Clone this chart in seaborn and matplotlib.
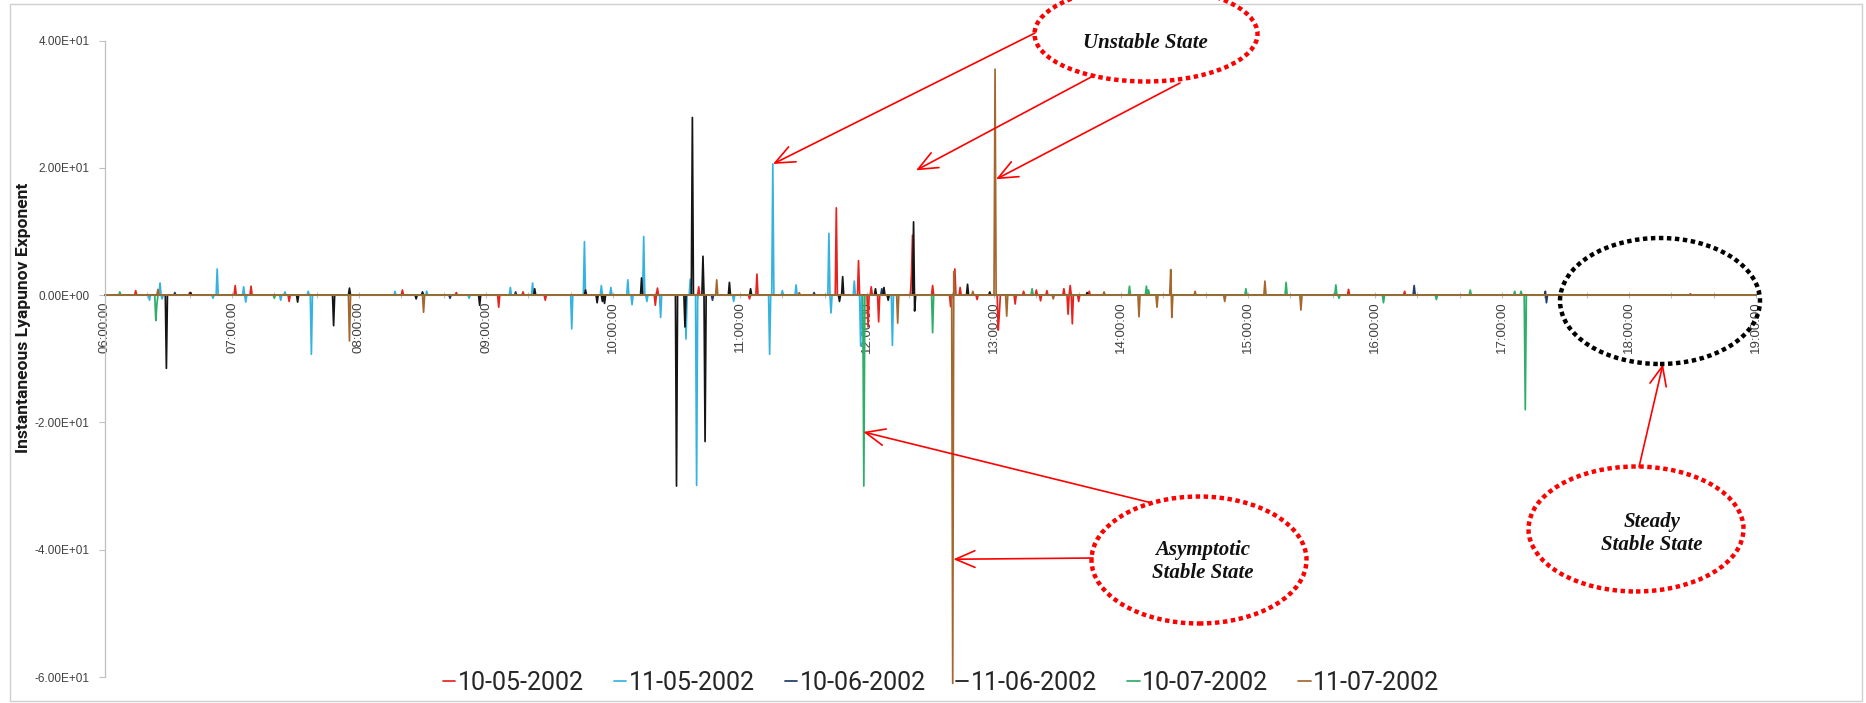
import numpy as np
import pandas as pd
import matplotlib
matplotlib.use("Agg")
import matplotlib.pyplot as plt
import seaborn as sns
from matplotlib.patches import Ellipse, Rectangle
from matplotlib.ticker import MultipleLocator, FuncFormatter

# ---------------- data ----------------
dates = ["10-05-2002", "11-05-2002", "10-06-2002", "11-06-2002", "10-07-2002", "11-07-2002"]
colors = ["#E8231F", "#35B3E0", "#1F3A6B", "#151515", "#2EAE68", "#A4672E"]

t_1005 = ["06:14:24", "06:40:00", "07:01:24", "07:09:00", "07:27:00", "08:20:24", "08:46:00", "09:06:00",
          "09:17:24", "09:28:00", "10:20:00", "10:21:00", "10:40:36", "11:04:30", "11:07:48", "11:45:36",
          "11:55:48", "12:00:30", "12:01:48", "12:05:36", "12:20:48", "12:21:30", "12:31:12", "12:39:30",
          "12:41:30", "12:44:00", "12:52:00", "13:01:48", "13:02:30", "13:09:54", "13:14:00", "13:20:00",
          "13:22:00", "13:25:00", "13:33:00", "13:35:00", "13:36:00", "13:37:00", "13:40:00", "13:45:00",
          "15:47:18", "16:14:00", "18:29:00"]
v_1005 = [0.7, 0.4, 1.5, 1.4, -1.0, 0.8, 0.4, -1.9,
          0.5, -0.8, -1.6, 1.1, 1.3, -0.6, 3.3, 13.7,
          5.4, -5.0, 1.3, -4.2, 3.1, 9.4, 1.5, -1.8,
          4.1, 1.2, -0.7, -5.5, -3.0, -1.4, 0.6, 0.8,
          -0.9, 0.7, 1.0, -3.0, 1.5, -4.5, -1.0, 0.6,
          0.9, 0.6, 0.2]

t_1105 = ["06:21:00", "06:25:48", "06:27:00", "06:51:00", "06:53:12", "07:05:24", "07:06:30", "07:23:00",
          "07:25:00", "07:36:00", "07:37:30", "08:17:00", "08:32:00", "08:52:00", "09:11:24", "09:22:00",
          "09:40:36", "09:46:30", "09:54:18", "09:58:48", "10:06:54", "10:09:00", "10:14:36", "10:16:00",
          "10:22:42", "10:34:30", "10:36:18", "10:39:42", "10:57:00", "11:14:12", "11:15:36", "11:20:00",
          "11:26:24", "11:42:00", "11:43:00", "11:53:54", "11:57:00", "12:12:00"]
v_1105 = [-0.8, 1.9, -0.6, -0.5, 4.1, 1.3, -1.1, -0.8,
          0.5, 0.6, -9.3, 0.6, 0.6, -0.5, 1.2, 1.9,
          -5.3, 8.4, 1.5, 1.2, 2.4, -1.5, 9.2, -1.0,
          -3.5, -6.9, 2.5, -29.9, -1.0, -9.3, 20.6, 0.7,
          1.6, 9.7, -2.8, 2.2, -8.0, -7.9]

t_1006 = ["06:33:00", "08:43:00", "09:14:00", "10:47:00", "11:35:00", "12:07:00", "16:18:18", "17:20:30",
          "17:21:00"]
v_1006 = [0.4, -0.5, 0.5, -0.8, 0.4, 1.0, 1.5, 0.6,
          -1.2]

t_1106 = ["06:29:00", "06:40:30", "07:31:00", "07:48:00", "07:55:18", "08:27:00", "08:30:00", "08:57:00",
          "09:23:00", "09:46:48", "09:52:30", "09:55:00", "09:56:06", "10:13:30", "10:29:48", "10:34:00",
          "10:37:42", "10:42:30", "10:43:30", "10:54:48", "11:05:00", "11:47:00", "11:48:18", "12:04:00",
          "12:08:00", "12:10:00", "12:22:00", "12:22:30", "12:47:24", "12:58:00", "13:44:00"]
v_1106 = [-11.5, 0.4, -1.1, -4.8, 1.1, -0.6, 0.5, -1.6,
          1.0, 0.8, -1.2, -1.0, -1.3, 2.7, -30.0, -5.0,
          27.9, 6.1, -23.0, 2.0, 1.0, -1.0, 2.9, 1.0,
          1.2, -0.8, 11.5, -2.5, 1.7, 0.5, 0.4]

t_1007 = ["06:07:00", "06:23:48", "06:24:30", "07:20:00", "11:58:18", "12:31:00", "13:18:00", "14:04:00",
          "14:12:00", "14:13:00", "14:59:00", "15:18:00", "15:41:30", "15:43:00", "16:04:00", "16:29:00",
          "16:45:00", "17:06:00", "17:09:00", "17:11:06"]
v_1007 = [0.5, -4.0, -1.5, -0.5, -30.0, -5.9, 1.0, 1.4,
          1.4, 0.8, 1.0, 2.0, 1.6, -0.5, -1.2, -0.7,
          0.8, 0.6, 0.6, -18.0]

t_1107 = ["06:25:00", "07:55:30", "08:30:36", "10:48:54", "11:28:00", "12:14:18", "12:40:24", "12:41:00",
          "12:50:00", "13:00:30", "13:06:00", "13:28:00", "13:52:00", "14:08:30", "14:17:00", "14:23:30",
          "14:24:00", "14:35:00", "14:49:00", "15:08:00", "15:24:48"]
v_1107 = [0.9, -7.2, -2.7, 2.4, 0.4, -4.4, -61.0, 3.7,
          0.6, 35.5, -3.3, -0.6, 0.5, -3.4, -1.9, 4.0,
          -3.5, 0.6, -1.0, 2.2, -2.35]

hour_ticks = list(range(6, 20))
hour_labels = [f"{h:02d}:00:00" for h in hour_ticks]
y_ticks = [-60, -40, -20, 0, 20, 40]

# --------------- build long table (30 s sampling, 0 between readings) ---------------
STEP = 120  # samples per hour
grid = 6 + np.arange(0, 13 * STEP + 1) / STEP


def to_hours(s):
    h, m, sec = map(int, s.split(":"))
    return h + m / 60 + sec / 3600


frames = []
for d, ts, vs in zip(dates,
                     [t_1005, t_1105, t_1006, t_1106, t_1007, t_1107],
                     [v_1005, v_1105, v_1006, v_1106, v_1007, v_1107]):
    y = np.zeros(len(grid))
    for t, v in zip(ts, vs):
        y[int(round((to_hours(t) - 6) * STEP))] = v
    frames.append(pd.DataFrame({"hour": grid, "value": y, "date": d}))
df = pd.concat(frames, ignore_index=True)

# --------------- figure ---------------
sns.set_style("ticks")
plt.rcParams["font.family"] = ["Liberation Sans", "DejaVu Sans"]

W, H = 1866, 703
fig = plt.figure(figsize=(W / 100, H / 100), dpi=100)
fig.patch.set_facecolor("white")


def fx(px):
    return px / W


def fy(py):
    return 1 - py / H


ax = fig.add_axes([fx(105), fy(677), (1756 - 105) / W, (677 - 40.5) / H])

sns.lineplot(data=df, x="hour", y="value", hue="date", hue_order=dates,
             palette=dict(zip(dates, colors)), estimator=None, sort=False,
             linewidth=1.25, ax=ax)
for ln in ax.get_lines():
    ln.set_clip_on(False)

ax.set_xlim(6, 19)
ax.set_ylim(-60, 40)
ax.set_xlabel("")
ax.set_ylabel("")

ax.spines["top"].set_visible(False)
ax.spines["right"].set_visible(False)
ax.spines["bottom"].set_position(("data", 0))
for s in ("bottom", "left"):
    ax.spines[s].set_color("#BFBFBF")
    ax.spines[s].set_linewidth(0.9)
ax.spines["bottom"].set_zorder(0.5)

ax.set_xticks(hour_ticks)
ax.set_xticklabels(hour_labels, rotation=90, va="top", ha="center")
ax.xaxis.set_minor_locator(MultipleLocator(1 / 3))
ax.tick_params(axis="x", which="both", direction="inout", length=5, width=0.8,
               color="#BFBFBF", pad=2, labelsize=9.5, labelcolor="#404040", bottom=True)

ax.set_yticks(y_ticks)
ax.yaxis.set_major_formatter(FuncFormatter(lambda v, p: f"{v:.2E}"))
ax.tick_params(axis="y", direction="out", length=4, width=0.8, color="#BFBFBF",
               pad=7, labelsize=8.5, labelcolor="#404040", left=True)

fig.text(fx(24), fy(318), "Instantaneous Lyapunov Exponent", rotation=90,
         ha="center", va="center", fontsize=12.6, fontweight="bold",
         family="Roboto", color="#1a1a1a")

# legend
handles, labels = ax.get_legend_handles_labels()
if ax.get_legend() is not None:
    ax.get_legend().remove()
leg = fig.legend(handles, labels, loc="center", bbox_to_anchor=(fx(941), 20 / H),
                 ncol=6, frameon=False, prop={"family": "Roboto", "size": 18},
                 handlelength=0.5, handletextpad=0.1, columnspacing=1.2, borderpad=0)
for txt in leg.get_texts():
    txt.set_color("#262626")

# --------------- annotations ---------------
dots = (0, (1, 0.8))


def ellipse(cx, cy, w, h, color):
    e = Ellipse((fx(cx), fy(cy)), w / W, h / H, transform=fig.transFigure, fill=False,
                edgecolor=color, linewidth=3.2, linestyle=dots, zorder=6, clip_on=False)
    fig.add_artist(e)


ellipse(1146, 34, 223, 95, "red")
ellipse(1199, 560, 215, 127, "red")
ellipse(1636, 529, 215, 125, "red")
ellipse(1660, 301, 200, 126, "black")

tstyle = dict(family="Liberation Serif", fontweight="bold", style="italic", fontsize=15,
              ha="center", va="center", linespacing=1.2, color="#111111", zorder=7)
fig.text(fx(1145), fy(43), "Unstable State", **tstyle)
fig.text(fx(1203), fy(562), "Asymptotic\nStable State", **tstyle)
fig.text(fx(1652), fy(533), "Steady\nStable State", **tstyle)

aprops = dict(arrowstyle="->,head_length=0.7,head_width=0.3", color="red", lw=1.2,
              shrinkA=0, shrinkB=0, mutation_scale=20)
arrows_data = [((1035, 33), (11.26, 20.6)),
               ((1095, 75), (12.386, 19.6)),
               ((1180, 83), (13.016, 18.2)),
               ((1152, 503), (11.971, -21.5)),
               ((1093, 558), (12.68, -41.5))]
for (sx, sy), tip in arrows_data:
    ax.annotate("", xy=tip, xycoords="data", xytext=(fx(sx), fy(sy)),
                textcoords="figure fraction", arrowprops=aprops, annotation_clip=False)
ax.annotate("", xy=(fx(1663), fy(364)), xycoords="figure fraction",
            xytext=(fx(1639), fy(467)), textcoords="figure fraction",
            arrowprops=aprops, annotation_clip=False)

# outer chart border
fig.add_artist(Rectangle((fx(10), fy(701)), (1862 - 10) / W, (701 - 4) / H,
                         transform=fig.transFigure, fill=False, edgecolor="#D0D0D0",
                         linewidth=1, zorder=0))

fig.savefig("out.png", dpi=100, facecolor="white")
